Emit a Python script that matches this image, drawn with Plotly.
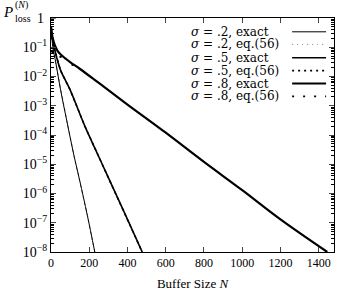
import plotly.graph_objects as go

# ---- data ----
n_s2 = [0, 10, 25, 50, 82, 120, 150, 190, 229]
p_s2 = [0.51, 0.1, 0.03, 3.5e-3, 3.2e-4, 2.0e-5, 2.8e-6, 1.8e-7, 1e-8]
n_s2_eq = [0, 10, 25, 50, 82, 120, 150, 190, 229]
p_s2_eq = [0.35, 0.09, 0.028, 3.4e-3, 3.2e-4, 2.0e-5, 2.8e-6, 1.8e-7, 1e-8]

n_s5 = [0, 8, 19, 50, 100, 177, 240, 300, 400, 477]
p_s5 = [0.51, 0.2, 0.085, 0.0165, 3.5e-3, 2.0e-4, 2.5e-5, 3.5e-6, 1.3e-7, 1e-8]
n_s5_eq = [0, 8, 19, 50, 100, 177, 240, 300, 400, 477]
p_s5_eq = [0.38, 0.17, 0.08, 0.016, 3.5e-3, 2.0e-4, 2.5e-5, 3.5e-6, 1.3e-7, 1e-8]

n_s8 = [0, 5, 10, 20, 35, 60, 100, 150, 250, 400, 600, 800, 1000, 1200, 1445]
p_s8 = [0.51, 0.28, 0.19, 0.117, 0.074, 0.05, 0.031, 0.0184, 6.0e-3, 1.1e-3,
        1.2e-4, 1.2e-5, 1.3e-6, 1.3e-7, 1e-8]
n_s8_eq = [9, 50, 113]
p_s8_eq = [0.066, 0.047, 0.025]

x_ticks = [0, 200, 400, 600, 800, 1000, 1200, 1400]
y_ticks = [1e-1, 1e-2, 1e-3, 1e-4, 1e-5, 1e-6, 1e-7, 1e-8]
y_labels = ["10<sup>−%d</sup>" % k for k in range(1, 9)]
top_label = "1"
legend_labels = ["<i>σ</i> = .2, exact", "<i>σ</i> = .2, eq.(56)", "<i>σ</i> = .5, exact",
                 "<i>σ</i> = .5, eq.(56)", "<i>σ</i> = .8, exact", "<i>σ</i> = .8, eq.(56)"]

FONT = "Liberation Serif, DejaVu Serif, serif"
LFONT = "DejaVu Serif, serif"
fig = go.Figure()
fig.add_trace(go.Scatter(x=n_s2_eq, y=p_s2_eq, mode="lines",
                         line=dict(color="#777", width=1, dash="dot")))
fig.add_trace(go.Scatter(x=n_s5_eq, y=p_s5_eq, mode="lines",
                         line=dict(color="black", width=1.5, dash="dot")))
fig.add_trace(go.Scatter(x=n_s8_eq, y=p_s8_eq, mode="markers",
                         marker=dict(color="black", size=2.5)))
fig.add_trace(go.Scatter(x=n_s2, y=p_s2, mode="lines", line_shape="spline",
                         line=dict(color="black", width=1)))
fig.add_trace(go.Scatter(x=n_s5, y=p_s5, mode="lines", line_shape="spline",
                         line=dict(color="black", width=1.6)))
fig.add_trace(go.Scatter(x=n_s8, y=p_s8, mode="lines", line_shape="spline",
                         line=dict(color="black", width=2.2)))

minor_vals = [m * 10 ** (-k) for k in range(1, 9) for m in range(2, 10)]

fig.update_layout(
    width=344, height=298,
    margin=dict(l=51, r=9, t=18, b=41),
    paper_bgcolor="white", plot_bgcolor="white",
    showlegend=False,
    font=dict(family=FONT, size=13, color="black"),
    xaxis=dict(range=[0, 1480], tickvals=x_ticks, ticks="inside", ticklen=5,
               showline=True, linecolor="black", linewidth=1, mirror="allticks",
               showgrid=False, zeroline=False,
               tickfont=dict(family=FONT, size=12),
               title=dict(text="Buffer Size <i>N</i>", font=dict(family=FONT, size=13),
                          standoff=9)),
    yaxis=dict(type="log", range=[-8, 0], tickvals=y_ticks, ticktext=y_labels,
               ticks="inside", ticklen=5, showline=True, linecolor="black",
               linewidth=1, mirror="allticks", showgrid=False, zeroline=False,
               tickfont=dict(family=FONT, size=14),
               minor=dict(tickvals=minor_vals, ticks="inside", ticklen=3,
                          tickcolor="black", showgrid=False)),
)

# top tick label "1"
fig.add_annotation(xref="paper", yref="paper", x=-0.018, y=1.0, xanchor="right",
                   yanchor="middle", showarrow=False, text=top_label,
                   font=dict(family=FONT, size=14))
fig.add_shape(type="line", xref="paper", yref="paper", x0=0, x1=0.0176, y0=1, y1=1,
              line=dict(color="black", width=1))

# y-axis label P_loss^(N) with stacked sub/superscript
fig.add_annotation(xref="paper", yref="paper", x=-0.176, y=1.0, xanchor="left",
                   yanchor="middle", yshift=6, showarrow=False,
                   text="<i>P</i>", font=dict(family=FONT, size=15))
fig.add_annotation(xref="paper", yref="paper", x=-0.135, y=1.0, xanchor="left",
                   yanchor="middle", yshift=13, showarrow=False,
                   text="(<i>N</i>)", font=dict(family=FONT, size=10))
fig.add_annotation(xref="paper", yref="paper", x=-0.135, y=1.0, xanchor="left",
                   yanchor="middle", yshift=0, showarrow=False,
                   text="loss", font=dict(family=FONT, size=10))

# legend drawn manually (text left-aligned, sample on right)
ys = [0.941, 0.887, 0.830, 0.775, 0.720, 0.665]
styles = [dict(width=1, dash="solid", color="black"),
          dict(width=1, dash="1px,4px", color="#888"),
          dict(width=1.6, dash="solid", color="black"),
          dict(width=1.6, dash="2px,4px", color="black"),
          dict(width=2.2, dash="solid", color="black"),
          dict(width=1.8, dash="2px,9px", color="black")]
for lab, yy, st in zip(legend_labels, ys, styles):
    fig.add_annotation(xref="paper", yref="paper", x=0.486, y=yy, xanchor="left",
                       yanchor="middle", showarrow=False, text=lab,
                       font=dict(family=LFONT, size=12))
    fig.add_shape(type="line", xref="paper", yref="paper", x0=0.852, x1=0.972,
                  y0=yy, y1=yy, line=st)

fig.write_html("out.html")
